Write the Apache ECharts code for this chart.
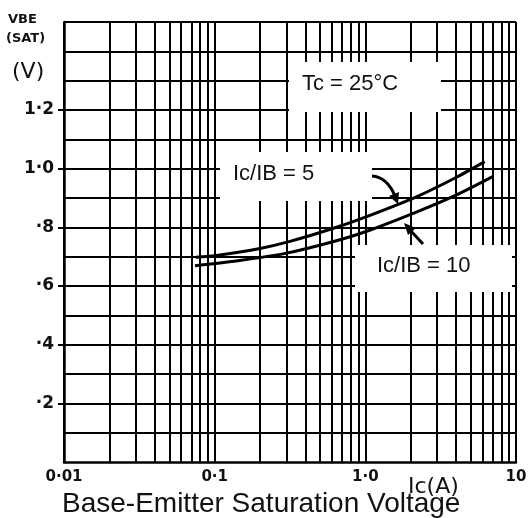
<!DOCTYPE html>
<html>
<head>
<meta charset="utf-8">
<script src="https://cdn.jsdelivr.net/npm/echarts@6/dist/echarts.min.js"></script>
<style>
html,body{margin:0;padding:0;background:#fff;}
#chart{width:530px;height:518px;}
</style>
</head>
<body>
<div id="chart"></div>
<script>
// ---- data ----
const xTickValues = [0.01, 0.1, 1, 10];
const xTickLabels = ['0·01', '0·1', '1·0', '10'];
const yTickValues = [0.2, 0.4, 0.6, 0.8, 1.0, 1.2];
const yTickLabels = ['·2', '·4', '·6', '·8', '1·0', '1·2'];
const gridDecades = [0.01, 0.1, 1];
const gridMultipliers = [1, 2, 3, 4, 5, 6, 7, 8, 9];
const gridLast = 10;
const yGridLevels = [0.1, 0.2, 0.3, 0.4, 0.5, 0.6, 0.7, 0.8, 0.9, 1.0, 1.1, 1.2, 1.3, 1.4, 1.5];

const seriesNames = ['Ic/IB = 5', 'Ic/IB = 10'];
const ratio5X = [0.075, 0.1, 0.2, 0.316, 0.6, 1.0, 2.2, 4.0, 6.2];
const ratio5Y = [0.698, 0.703, 0.728, 0.752, 0.795, 0.835, 0.905, 0.97, 1.024];
const ratio10X = [0.074, 0.15, 0.3, 0.6, 1.0, 2.2, 4.0, 7.0];
const ratio10Y = [0.669, 0.688, 0.712, 0.75, 0.785, 0.853, 0.91, 0.973];

const annotationTexts = ['Tc = 25°C', 'Ic/IB = 5', 'Ic/IB = 10'];
const chartTitle = 'Base-Emitter Saturation Voltage';
const xName = 'Ic(A)';
const yNameLines = ['VBE', '(SAT)', '(V)'];

// ---- build ----
const gridXs = [];
gridDecades.forEach(d => gridMultipliers.forEach(m => gridXs.push(+(d * m).toPrecision(6))));
gridXs.push(gridLast);

const zip = (xs, ys) => xs.map((x, i) => [x, ys[i]]);
const FONT = '"Liberation Sans", Arial, sans-serif';
const HAND = '"DejaVu Sans", sans-serif';

const chart = echarts.init(document.getElementById('chart'), null, {renderer: 'canvas'});

const option = {
  animation: false,
  backgroundColor: '#fff',
  title: {
    text: chartTitle,
    left: 57,
    top: 485,
    textStyle: {fontFamily: FONT, fontSize: 28, fontWeight: 'normal', color: '#111'}
  },
  grid: {left: 64, right: 14, top: 22, bottom: 56, containLabel: false},
  xAxis: {
    type: 'log',
    logBase: 10,
    min: 0.01,
    max: 10,
    axisLine: {show: true, lineStyle: {color: '#000', width: 2.5}},
    axisTick: {show: false},
    splitLine: {show: false},
    axisLabel: {
      margin: 8,
      fontFamily: HAND,
      fontSize: 15,
      fontWeight: 'bold',
      color: '#111',
      showMinLabel: true,
      showMaxLabel: true,
      formatter: v => {
        const i = xTickValues.findIndex(t => Math.abs(Math.log10(t) - Math.log10(v)) < 1e-6);
        return i >= 0 ? xTickLabels[i] : '';
      }
    }
  },
  yAxis: {
    type: 'value',
    min: 0,
    max: 1.5,
    interval: 0.1,
    axisLine: {show: true, lineStyle: {color: '#000', width: 2.5}},
    axisTick: {show: true, length: 6, customValues: yTickValues, lineStyle: {color: '#000', width: 2}},
    splitLine: {show: false},
    axisLabel: {
      margin: 10,
      customValues: yTickValues,
      fontFamily: HAND,
      fontSize: 17,
      fontWeight: 'bold',
      color: '#111',
      formatter: v => {
        const i = yTickValues.findIndex(t => Math.abs(t - v) < 1e-6);
        return i >= 0 ? yTickLabels[i] : '';
      }
    }
  },
  series: [
    {
      type: 'line',
      data: [],
      silent: true,
      markLine: {
        silent: true,
        symbol: ['none', 'none'],
        label: {show: false},
        lineStyle: {color: '#000', width: 2, type: 'solid'},
        emphasis: {disabled: true},
        data: gridXs.map(x => ({xAxis: x})).concat(yGridLevels.map(y => ({yAxis: y})))
      }
    },
    {
      name: seriesNames[0],
      type: 'line',
      data: zip(ratio5X, ratio5Y),
      smooth: 0.25,
      showSymbol: false,
      symbol: 'none',
      lineStyle: {color: '#000', width: 3}
    },
    {
      name: seriesNames[1],
      type: 'line',
      data: zip(ratio10X, ratio10Y),
      smooth: 0.25,
      showSymbol: false,
      symbol: 'none',
      lineStyle: {color: '#000', width: 3}
    }
  ],
  graphic: [
    // white label boxes covering the grid
    {type: 'rect', z: 100, shape: {x: 289, y: 62, width: 152, height: 50}, style: {fill: '#fff'}},
    {type: 'rect', z: 100, shape: {x: 220, y: 152, width: 152, height: 49}, style: {fill: '#fff'}},
    {type: 'rect', z: 100, shape: {x: 355, y: 245, width: 157, height: 47}, style: {fill: '#fff'}},
    {type: 'text', z: 110, x: 302, y: 84, style: {text: annotationTexts[0], font: '22px ' + FONT, fill: '#111', textVerticalAlign: 'middle'}},
    {type: 'text', z: 110, x: 233, y: 174, style: {text: annotationTexts[1], font: '22px ' + FONT, fill: '#111', textVerticalAlign: 'middle'}},
    {type: 'text', z: 110, x: 377, y: 266, style: {text: annotationTexts[2], font: '22px ' + FONT, fill: '#111', textVerticalAlign: 'middle'}},
    // arrows
    {type: 'bezierCurve', z: 110, shape: {x1: 372, y1: 176, cpx1: 387, cpy1: 177, x2: 395, y2: 196}, style: {stroke: '#000', lineWidth: 3, fill: 'none'}},
    {type: 'polygon', z: 110, shape: {points: [[398, 204], [389, 196], [399, 192]]}, style: {fill: '#000'}},
    {type: 'line', z: 110, shape: {x1: 423, y1: 244, x2: 410, y2: 230}, style: {stroke: '#000', lineWidth: 3}},
    {type: 'polygon', z: 110, shape: {points: [[404, 223], [416, 228], [408, 235]]}, style: {fill: '#000'}},
    // axis names
    {type: 'text', z: 110, x: 8, y: 20, style: {text: yNameLines[0], font: 'bold 13px ' + HAND, fill: '#111', textVerticalAlign: 'middle'}},
    {type: 'text', z: 110, x: 6, y: 39, style: {text: yNameLines[1], font: 'bold 13px ' + HAND, fill: '#111', textVerticalAlign: 'middle'}},
    {type: 'text', z: 110, x: 12, y: 72, style: {text: yNameLines[2], font: '22px ' + HAND, fill: '#111', textVerticalAlign: 'middle'}},
    {type: 'text', z: 110, x: 408, y: 487, style: {text: xName, font: '22px ' + HAND, fill: '#111', textVerticalAlign: 'middle'}}
  ]
};
chart.setOption(option);
</script>
</body>
</html>
